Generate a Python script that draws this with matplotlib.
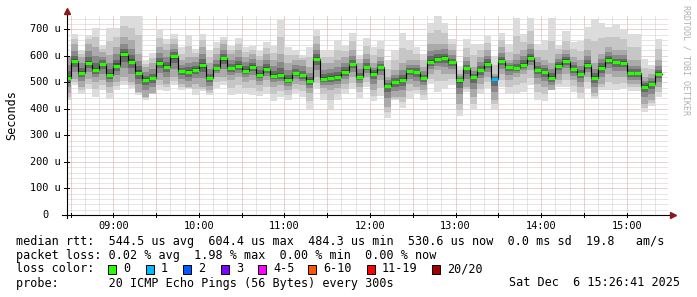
import matplotlib
matplotlib.use("Agg")
import matplotlib.pyplot as plt
from matplotlib.patches import Rectangle
import numpy as np

### smokeping style latency graph, 5 minute steps from 08:25 to 15:25
### x values are minutes after 08:00, y values in microseconds

start_min = 25
step_min = 5

median = [515, 580, 535, 572, 545, 568, 528, 563, 605, 578, 537, 510, 515, 573, 557, 598, 542, 538, 548, 565, 515,
          553, 590, 553, 560, 543, 558, 528, 549, 525, 526, 508, 535, 526, 505, 588, 514, 518, 520, 540, 568, 519,
          557, 533, 559, 487, 501, 508, 543, 538, 516, 575, 587, 591, 575, 508, 553, 520, 545, 570, 513, 580, 558,
          553, 565, 591, 546, 539, 518, 562, 582, 549, 530, 565, 518, 555, 585, 575, 573, 534, 534, 484, 492, 531]

ping_max = [600, 681, 621, 680, 706, 640, 706, 706, 750, 750, 750, 583, 612, 702, 665, 684, 633, 680, 627, 684, 621,
            652, 671, 636, 668, 633, 637, 618, 652, 637, 734, 633, 621, 602, 633, 700, 621, 623, 661, 640, 687, 602,
            667, 633, 655, 583, 621, 687, 658, 633, 608, 724, 750, 724, 665, 558, 665, 646, 646, 674, 596, 686, 644,
            744, 681, 742, 646, 658, 742, 640, 692, 652, 655, 709, 738, 725, 709, 719, 702, 681, 681, 589, 564, 665]

ping_min = [432, 489, 457, 476, 445, 470, 437, 472, 491, 477, 453, 435, 457, 472, 467, 489, 470, 476, 451, 467, 451,
            480, 489, 451, 457, 455, 453, 448, 455, 430, 445, 432, 457, 445, 400, 476, 432, 400, 432, 457, 476, 441,
            482, 430, 448, 367, 432, 403, 438, 457, 432, 492, 463, 476, 489, 375, 463, 395, 457, 479, 400, 481, 455,
            457, 463, 489, 435, 430, 476, 482, 481, 463, 438, 479, 436, 470, 472, 470, 476, 467, 467, 388, 409, 445]

upper_q = [596, 646, 596, 646, 633, 615, 602, 633, 671, 659, 608, 558, 571, 633, 621, 646, 583, 596, 596, 633, 571,
           608, 646, 608, 621, 596, 608, 583, 608, 583, 608, 571, 583, 583, 558, 646, 571, 571, 583, 596, 621, 571,
           608, 571, 596, 521, 546, 571, 583, 583, 558, 646, 646, 646, 621, 533, 596, 558, 596, 621, 533, 633, 583,
           608, 621, 646, 596, 583, 571, 608, 621, 596, 583, 621, 571, 608, 633, 621, 621, 583, 583, 521, 533, 583]

lower_q = [458, 514, 483, 514, 502, 508, 483, 502, 521, 502, 464, 445, 458, 508, 495, 521, 495, 483, 495, 483, 470,
           521, 521, 508, 521, 502, 508, 489, 508, 483, 489, 470, 495, 489, 458, 521, 477, 470, 477, 495, 521, 483,
           521, 470, 508, 408, 445, 445, 495, 483, 470, 533, 546, 533, 533, 420, 483, 445, 495, 521, 433, 533, 508,
           521, 533, 546, 495, 483, 470, 508, 533, 508, 483, 521, 458, 495, 533, 521, 521, 495, 495, 420, 433, 483]

# lost pings out of 20 for each step
loss = [0] * 84
loss[60] = 1

loss_labels = ["0", "1", "2", "3", "4-5", "6-10", "11-19", "20/20"]
loss_colors = ["#26ff00", "#00b8ff", "#0059ff", "#7e00ff", "#ff00ff", "#ff5500", "#ff0000", "#a10000"]

hour_labels = ["09:00", "10:00", "11:00", "12:00", "13:00", "14:00", "15:00"]
hour_ticks = [60, 120, 180, 240, 300, 360, 420]
y_ticks = [0, 100, 200, 300, 400, 500, 600, 700]

W, H = 697, 297
fig = plt.figure(figsize=(W / 100, H / 100), dpi=100)
fig.patch.set_facecolor("white")
ax = fig.add_axes([67 / W, 1 - 215 / H, 601 / W, 199 / H])
ax.set_xlim(27.5, 449)
ax.set_ylim(0, 750)
for s in ax.spines.values():
    s.set_visible(False)

mono = "DejaVu Sans Mono"

### grid, minor grey dots then red major dots
dot = (0, (1, 1))
g = dict(lw=0.72, ls=dot)
for x in np.arange(30, 450, 10):
    if x % 30:
        ax.axvline(x, color="#cdcdcd", zorder=0, **g)
for y in np.arange(20, 750, 20):
    if y % 100:
        ax.axhline(y, color="#cdcdcd", zorder=0, **g)
for x in np.arange(30, 450, 30):
    ax.axvline(x, color="#e6a0a0", zorder=0.5, **g)
for y in y_ticks[1:]:
    ax.axhline(y, color="#e6a0a0", zorder=0.5, **g)

### the smoke
left = start_min + step_min * np.arange(len(median))
med = np.array(median, float)
lo = np.array(ping_min, float)
hi = np.array(ping_max, float)
ql = np.array(lower_q, float)
qh = np.array(upper_q, float)

layers = []
for f, c in [(1.0, "#dcdcdc"), (0.5, "#c6c6c6")]:
    layers.append((ql + f * (lo - ql), qh + f * (hi - qh), c))
for f, c in [(1.0, "#aaaaaa"), (0.6, "#8a8a8a"), (0.32, "#686868"), (0.12, "#484848")]:
    layers.append((med + f * (ql - med), med + f * (qh - med), c))

for k, (a, b, c) in enumerate(layers):
    ax.bar(left, b - a, bottom=a, width=step_min, align="edge", color=c, linewidth=0, zorder=1 + k * 0.01)

### median line, black steps and loss coloured bars
edges = np.append(left, left[-1] + step_min)
ax.step(edges, np.append(med, med[-1]), where="post", color="black", lw=0.8, zorder=2)


def loss_index(n):
    if n < 4:
        return n
    if n <= 5:
        return 4
    if n <= 10:
        return 5
    if n < 20:
        return 6
    return 7


colors = [loss_colors[loss_index(n)] for n in loss]
ax.hlines(med, left, left + step_min, colors=colors, lw=2.3, zorder=3)

### axes, ticks and arrows
ax.set_xticks(hour_ticks, hour_labels, fontsize=7.4, family=mono)
ax.set_yticks(y_ticks, [""] * len(y_ticks))
ax.tick_params(axis="x", length=0, pad=4)
ax.tick_params(axis="y", length=0)
for y in y_ticks:
    ax.text(-0.0366, y, "0" if y == 0 else f"{y} u", transform=ax.get_yaxis_transform(),
            ha="center", va="center", fontsize=7.4, family=mono)

ax.plot([-5 / 601, 1.006], [0, 0], transform=ax.transAxes, color="black", lw=0.8, clip_on=False, zorder=5)
ax.plot([0, 0], [-3 / 199, 1.02], transform=ax.transAxes, color="black", lw=0.8, clip_on=False, zorder=5)
ax.plot([1.008], [0], transform=ax.transAxes, marker=">", ms=4, color="#8b1a1a", clip_on=False, zorder=6)
ax.plot([0], [1.025], transform=ax.transAxes, marker="^", ms=4, color="#8b1a1a", clip_on=False, zorder=6)
for x in np.arange(30, 450, 30):
    ax.plot([x, x], [-2 / 199, 2 / 199], transform=ax.get_xaxis_transform(), color="black", lw=0.7, clip_on=False)
for y in y_ticks:
    ax.plot([-3 / 601, 2 / 601], [y, y], transform=ax.get_yaxis_transform(), color="black", lw=0.7, clip_on=False)

fig.text(12 / W, 1 - 115 / H, "Seconds", rotation=90, ha="center", va="center", fontsize=8.5, family=mono)
fig.text(686 / W, 1 - 5 / H, "RRDTOOL / TOBI OETIKER", rotation=270, ha="center", va="top",
         fontsize=6, family=mono, color="#b0b0b0")


### legend block under the graph
def line(y, s):
    fig.text(16 / W, 1 - y / H, s, ha="left", va="center", fontsize=8.5, family=mono)


line(241, "median rtt:  544.5 us avg  604.4 us max  484.3 us min  530.6 us now  0.0 ms sd  19.8   am/s")
line(255, "packet loss: 0.02 % avg  1.98 % max  0.00 % min  0.00 % now")
line(269, "loss color:")
line(283, "probe:       20 ICMP Echo Pings (56 Bytes) every 300s")
fig.text(680 / W, 1 - 283 / H, "Sat Dec  6 15:26:41 2025", ha="right", va="center", fontsize=8.5, family=mono)

swatch_x = [108, 146, 183, 221, 258, 308, 367, 432]
for sx, lab, c in zip(swatch_x, loss_labels, loss_colors):
    fig.add_artist(Rectangle((sx / W, 1 - 274 / H), 8 / W, 9 / H, transform=fig.transFigure,
                             facecolor=c, edgecolor="black", lw=0.7))
    fig.text((sx + 15) / W, 1 - 269 / H, lab, ha="left", va="center", fontsize=8.5, family=mono)

fig.savefig("out.png", dpi=100, facecolor="white")
